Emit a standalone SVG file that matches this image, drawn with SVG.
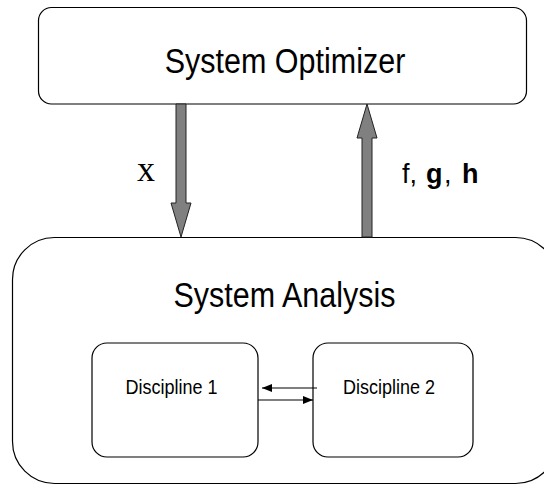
<svg xmlns="http://www.w3.org/2000/svg" width="544" height="485" viewBox="0 0 544 485">
<style>
.box{fill:#fff;stroke:#000;stroke-width:1.2}
.big{font-family:"Liberation Sans",Arial,sans-serif;font-size:30.5px;fill:#000;text-anchor:middle}
.small{font-family:"Liberation Sans",Arial,sans-serif;font-size:18px;fill:#000;text-anchor:middle}
.fat{fill:#808080;stroke:#222;stroke-width:1}
.thin{stroke:#000;stroke-width:1.2;fill:none;marker-end:url(#ah)}
</style>
<defs>
<marker id="ah" viewBox="0 0 10 8" refX="10" refY="4" markerWidth="10" markerHeight="8" markerUnits="userSpaceOnUse" orient="auto">
<path d="M0,0 L10,4 L0,8 z" fill="#000"/>
</marker>
</defs>
<rect width="544" height="485" fill="#fff"/>
<g id="system-optimizer">
<rect class="box" x="38.5" y="7.5" width="488" height="96.5" rx="13"/>
<text class="big" transform="translate(285,72.5) scale(1,1.17)">System Optimizer</text>
</g>
<g id="system-analysis">
<rect class="box" x="12.5" y="237.5" width="545" height="246" rx="42"/>
<text class="big" transform="translate(284.5,306.5) scale(1,1.15)">System Analysis</text>
</g>
<g id="discipline-1">
<rect class="box" x="92" y="343" width="166" height="114" rx="15"/>
<text class="small" transform="translate(171.5,394) scale(1,1.08)">Discipline 1</text>
</g>
<g id="discipline-2">
<rect class="box" x="313" y="343" width="160" height="114" rx="15"/>
<text class="small" transform="translate(389,394) scale(1,1.08)">Discipline 2</text>
</g>
<g id="connectors">
<polygon class="fat" points="176,104 186,104 186,203 191,203 181,237 171,203 176,203"/>
<polygon class="fat" points="362,237 372,237 372,138 377,138 367,104 357,138 362,138"/>
<line class="thin" x1="317" y1="388" x2="262" y2="388"/>
<line class="thin" x1="258" y1="400" x2="313" y2="400"/>
<text x="137" y="181" font-family="Liberation Serif,'Times New Roman',serif" font-size="36" fill="#000">x</text>
<text y="183" font-family="Liberation Sans,Arial,sans-serif" font-size="27" fill="#000"><tspan x="402">f,</tspan><tspan x="426" font-weight="bold">g</tspan><tspan x="444">,</tspan><tspan x="462" font-weight="bold">h</tspan></text>
</g>
</svg>
